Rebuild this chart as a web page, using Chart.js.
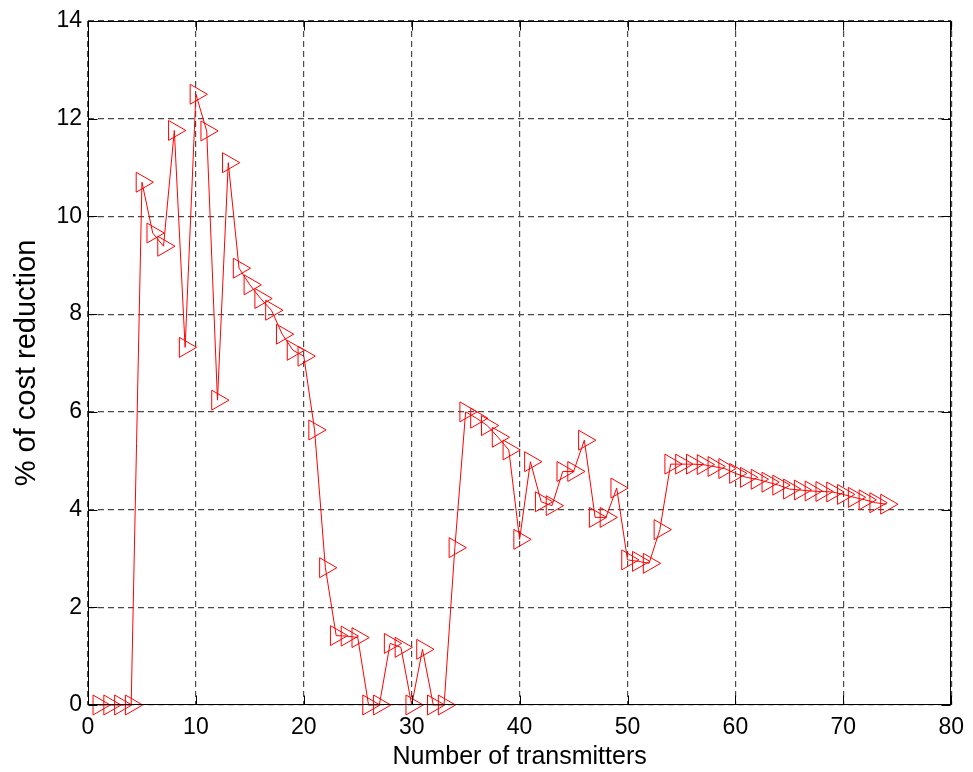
<!DOCTYPE html>
<html>
<head>
<meta charset="utf-8">
<title>% of cost reduction</title>
<script src="https://cdn.jsdelivr.net/npm/chart.js@4.4.1/dist/chart.umd.min.js"></script>
<style>
  html, body { margin: 0; padding: 0; background: #fff; }
  #wrap { width: 973px; height: 772px; }
</style>
</head>
<body>
<div id="wrap"><canvas id="costChart"></canvas></div>
<script>
// values
const transmitters = [
  1, 2, 3, 4, 5, 6, 7, 8, 9, 10, 11, 12, 13, 14, 15, 16, 17, 18, 19, 20,
  21, 22, 23, 24, 25, 26, 27, 28, 29, 30, 31, 32, 33, 34, 35, 36, 37, 38, 39, 40,
  41, 42, 43, 44, 45, 46, 47, 48, 49, 50, 51, 52, 53, 54, 55, 56, 57, 58, 59, 60,
  61, 62, 63, 64, 65, 66, 67, 68, 69, 70, 71, 72, 73, 74
];
const costReduction = [
  0, 0, 0, 0, 10.7, 9.66, 9.39, 11.76, 7.32, 12.5,
  11.75, 6.24, 11.1, 8.94, 8.6, 8.32, 8.08, 7.59, 7.26, 7.14,
  5.63, 2.81, 1.42, 1.41, 1.38, 0, 0, 1.26, 1.18, 0,
  1.14, 0, 0, 3.22, 6.0, 5.87, 5.72, 5.48, 5.22, 3.39,
  4.98, 4.16, 4.08, 4.78, 4.78, 5.42, 3.84, 3.84, 4.44, 2.97,
  2.94, 2.9, 3.59, 4.93, 4.93, 4.93, 4.92, 4.88, 4.84, 4.74,
  4.66, 4.62, 4.56, 4.5, 4.42, 4.4, 4.38, 4.37, 4.36, 4.31,
  4.25, 4.2, 4.14, 4.11
];
const xTicks = [0, 10, 20, 30, 40, 50, 60, 70, 80];
const yTicks = [0, 2, 4, 6, 8, 10, 12, 14];

Chart.defaults.font.family = "'Liberation Sans', Arial, sans-serif";
Chart.defaults.color = "#000";

// box round the axes with short inward ticks, like the original figure
const axesBox = {
  id: "axesBox",
  afterDraw(chart) {
    const { ctx, chartArea: a, scales } = chart;
    const len = 9;
    const l = Math.round(a.left) + 0.5, r = Math.round(a.right) - 0.5;
    const t = Math.round(a.top) + 0.5, b = Math.round(a.bottom) - 0.5;
    ctx.save();
    ctx.strokeStyle = "#000";
    ctx.lineWidth = 1;
    ctx.beginPath();
    xTicks.forEach(v => {
      const px = Math.round(scales.x.getPixelForValue(v)) + 0.5;
      ctx.moveTo(px, b); ctx.lineTo(px, b - len);
      ctx.moveTo(px, t); ctx.lineTo(px, t + len);
    });
    yTicks.forEach(v => {
      const py = Math.round(scales.y.getPixelForValue(v)) + 0.5;
      ctx.moveTo(l, py); ctx.lineTo(l + len, py);
      ctx.moveTo(r, py); ctx.lineTo(r - len, py);
    });
    ctx.stroke();
    ctx.strokeRect(l, t, r - l, b - t);
    ctx.restore();
  }
};

const ctx = document.getElementById("costChart").getContext("2d");
new Chart(ctx, {
  type: "line",
  data: {
    datasets: [{
      data: transmitters.map((n, i) => ({ x: n, y: costReduction[i] })),
      borderColor: "#ff0000",
      borderWidth: 1,
      tension: 0,
      fill: false,
      clip: false,
      pointStyle: "triangle",
      pointRotation: 90,
      pointRadius: 11.5,
      pointBorderWidth: 1,
      pointBorderColor: "#ff0000",
      pointBackgroundColor: "rgba(0,0,0,0)"
    }]
  },
  options: {
    responsive: true,
    maintainAspectRatio: false,
    animation: false,
    layout: { padding: { top: 21, right: 16, left: 0, bottom: 0 } },
    plugins: { legend: { display: false }, tooltip: { enabled: false } },
    scales: {
      x: {
        type: "linear",
        min: 0,
        max: 80,
        afterBuildTicks: s => { s.ticks = xTicks.map(v => ({ value: v })); },
        afterFit: s => { s.height = 67; },
        grid: { color: "#4a4a4a", lineWidth: 1.2, drawTicks: false },
        border: { display: false, dash: [6, 4] },
        ticks: { font: { size: 23 }, padding: 9, maxRotation: 0 },
        title: {
          display: true,
          text: "Number of transmitters",
          font: { size: 25 },
          padding: { top: 3, bottom: 0 }
        }
      },
      y: {
        min: 0,
        max: 14,
        afterBuildTicks: s => { s.ticks = yTicks.map(v => ({ value: v })); },
        afterFit: s => { s.width = 88; },
        grid: { color: "#4a4a4a", lineWidth: 1.2, drawTicks: false },
        border: { display: false, dash: [6, 4] },
        ticks: { font: { size: 23 }, padding: 6 },
        title: {
          display: true,
          text: "% of cost reduction",
          font: { size: 29 },
          padding: { top: 10, bottom: 0 }
        }
      }
    }
  },
  plugins: [axesBox]
});
</script>
</body>
</html>
